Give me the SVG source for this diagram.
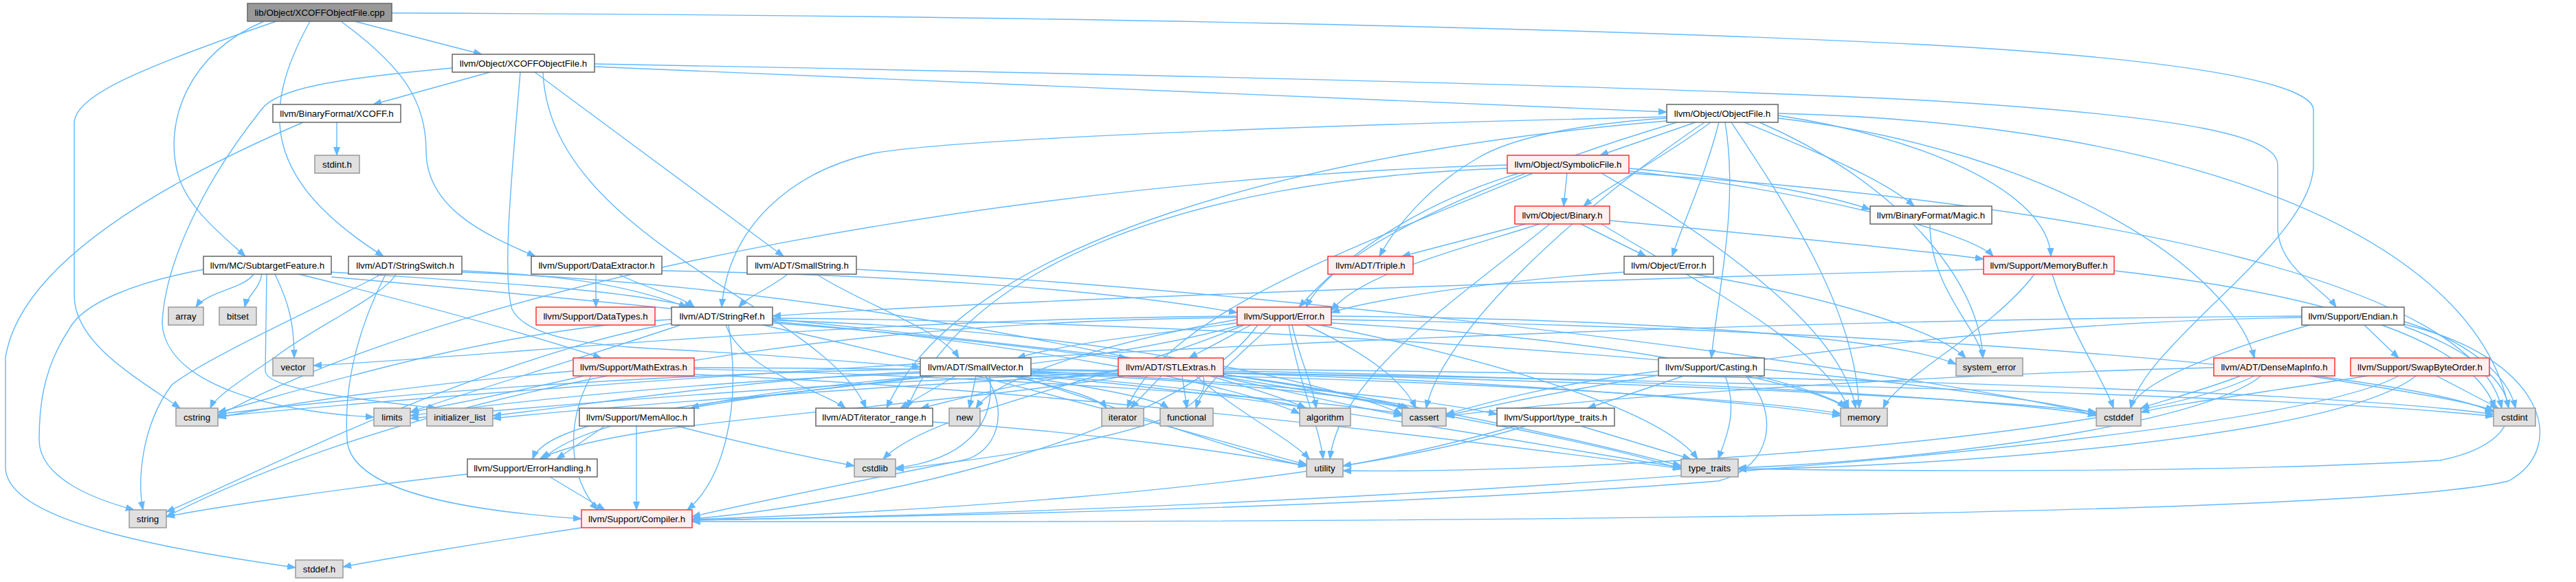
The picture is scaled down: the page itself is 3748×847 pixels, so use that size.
<svg xmlns="http://www.w3.org/2000/svg" width="3748" height="847" viewBox="0 0 3748 847">
<defs>
<marker id="a" markerUnits="userSpaceOnUse" markerWidth="13" markerHeight="10" refX="12" refY="5" orient="auto"><path d="M0,0.5 L12,5 L0,9.5 z" fill="#63b8ff" stroke="#63b8ff" stroke-width="1"/></marker>
<style>
.e{fill:none;stroke:#63b8ff;stroke-width:1.4;marker-end:url(#a)}
.root rect{fill:#999999;stroke:#666666;stroke-width:1.5}
.w rect{fill:#ffffff;stroke:#666666;stroke-width:1.5}
.r rect{fill:#fff0f0;stroke:#ff3333;stroke-width:1.5}
.g rect{fill:#e0e0e0;stroke:#999999;stroke-width:1.5}
text{font-family:"Liberation Sans",Arial,Helvetica,sans-serif;font-size:13.3px;fill:#000000;text-anchor:middle}
</style>
</defs>
<rect width="3748" height="847" fill="#ffffff"/>
<g id="edges">
<path class="e" d="M516,31 L701,79"/>
<path class="e" d="M451,31 C380,160 380,260 558,373"/>
<path class="e" d="M384,31 C270,80 240,180 258,250 C270,300 320,340 357,373"/>
<path class="e" d="M496,31 C590,100 620,150 620,220 C620,300 700,340 779,373"/>
<path class="e" d="M402,31 C200,100 108,140 108,180 L108,430 C108,500 200,550 262,594"/>
<path class="e" d="M570,19 C1500,22 2300,40 2800,65 C3250,90 3366,130 3366,160 L3366,240 C3366,350 3120,500 3100,594"/>
<path class="e" d="M713,105 L543,152"/>
<path class="e" d="M658,99 C480,115 400,130 380,160 C300,260 240,380 236,470 C240,560 400,600 544,607"/>
<path class="e" d="M778,105 L1140,373"/>
<path class="e" d="M757,105 C745,250 730,400 745,450 C770,500 900,505 1000,510 C1150,518 1250,528 1339,534"/>
<path class="e" d="M865,97 C1500,120 2000,145 2425,163"/>
<path class="e" d="M865,93 C1500,105 2400,125 2800,146 C3200,170 3314,200 3314,240 L3314,330 C3314,390 3380,420 3399,447"/>
<path class="e" d="M790,105 C800,350 1200,450 1260,594"/>
<path class="e" d="M490,178 L490,226"/>
<path class="e" d="M441,178 C250,260 30,380 8,520 L8,680 C8,760 250,800 430,826"/>
<path class="e" d="M369,399 C355,420 300,425 285,447"/>
<path class="e" d="M381,399 C378,420 360,430 356,447"/>
<path class="e" d="M400,399 C420,440 428,470 428,521"/>
<path class="e" d="M388,399 L386,540 C388,570 560,585 635,594"/>
<path class="e" d="M297,392 C200,410 120,440 100,480 C60,540 57,600 57,640 C57,700 150,730 195,742"/>
<path class="e" d="M435,399 C600,440 750,480 875,521"/>
<path class="e" d="M482,396 C700,410 900,420 1008,447"/>
<path class="e" d="M482,403 C900,440 1300,480 1640,521"/>
<path class="e" d="M672,394 C800,400 900,410 1000,447"/>
<path class="e" d="M561,399 C520,480 500,560 505,640 C510,720 700,745 846,755"/>
<path class="e" d="M672,396 C1300,420 1800,560 2040,605"/>
<path class="e" d="M576,399 C560,430 450,480 400,520 C340,560 312,580 306,594"/>
<path class="e" d="M555,399 C480,440 300,520 250,560 C205,620 200,700 208,742"/>
<path class="e" d="M867,399 L867,447"/>
<path class="e" d="M900,399 C940,420 990,430 1010,447"/>
<path class="e" d="M963,394 C1300,400 1600,420 1800,455"/>
<path class="e" d="M1146,399 C1120,420 1090,430 1075,447"/>
<path class="e" d="M1188,399 C1250,440 1370,480 1395,521"/>
<path class="e" d="M1246,392 C2000,430 2900,560 3050,605"/>
<path class="e" d="M2467,178 L2328,226"/>
<path class="e" d="M2489,178 C2420,230 2340,270 2304,300"/>
<path class="e" d="M2501,178 C2480,260 2450,320 2433,373"/>
<path class="e" d="M2538,178 C2640,220 2740,260 2785,300"/>
<path class="e" d="M2425,170 C2000,180 1400,200 1271,223 C1150,250 1060,330 1050,447"/>
<path class="e" d="M2425,172 C2300,180 2200,200 2150,230 C2080,270 2030,330 2007,373"/>
<path class="e" d="M2425,176 C1900,220 1400,350 1290,594"/>
<path class="e" d="M2510,178 C2530,300 2500,420 2490,521"/>
<path class="e" d="M2440,178 C2200,250 1950,350 1900,447"/>
<path class="e" d="M2587,168 C2800,200 2980,280 2984,373"/>
<path class="e" d="M2480,178 C2300,300 2100,480 2075,594"/>
<path class="e" d="M2587,165 C3200,180 3600,350 3650,594"/>
<path class="e" d="M2519,178 C2600,300 2700,450 2705,594"/>
<path class="e" d="M2560,178 C2750,260 2880,400 2885,521"/>
<path class="e" d="M2587,172 C3000,220 3250,400 3280,521"/>
<path class="e" d="M2280,252 L2275,300"/>
<path class="e" d="M2370,245 C2550,260 2680,290 2721,305"/>
<path class="e" d="M2370,249 C2650,280 2870,340 2900,373"/>
<path class="e" d="M2210,252 C2050,300 1950,380 1890,447"/>
<path class="e" d="M2193,245 C1700,260 1400,400 1320,594"/>
<path class="e" d="M2370,252 C3100,300 3600,420 3640,594"/>
<path class="e" d="M2193,240 C1500,260 700,400 317,605"/>
<path class="e" d="M2230,252 C2000,350 1700,450 1640,594"/>
<path class="e" d="M2330,252 C2500,350 2680,480 2700,594"/>
<path class="e" d="M2220,326 L2040,373"/>
<path class="e" d="M2300,326 L2395,373"/>
<path class="e" d="M2342,321 C2600,345 2800,365 2886,377"/>
<path class="e" d="M2240,326 C2100,370 1980,400 1937,452"/>
<path class="e" d="M2330,326 C2450,400 2650,500 2690,594"/>
<path class="e" d="M2255,326 C2100,450 1950,550 1935,668"/>
<path class="e" d="M2363,396 C2150,410 1980,440 1937,455"/>
<path class="e" d="M2465,399 C2650,430 2820,480 2860,521"/>
<path class="e" d="M2808,326 C2808,420 2880,480 2885,521"/>
<path class="e" d="M2886,392 C2200,410 1400,440 1124,460"/>
<path class="e" d="M2986,399 C3010,480 3060,550 3075,594"/>
<path class="e" d="M3076,394 C3400,430 3600,500 3630,594"/>
<path class="e" d="M2960,399 C2900,480 2760,550 2740,594"/>
<path class="e" d="M1830,473 C1700,650 1200,740 1007,755"/>
<path class="e" d="M1805,473 C1500,560 900,560 790,668"/>
<path class="e" d="M1880,473 C1890,520 1910,560 1915,594"/>
<path class="e" d="M1900,473 C1980,510 2040,550 2060,594"/>
<path class="e" d="M1937,465 C2800,480 3500,540 3628,600"/>
<path class="e" d="M1810,473 C1600,560 1350,600 1285,668"/>
<path class="e" d="M1850,473 C1800,520 1750,560 1740,594"/>
<path class="e" d="M1937,470 C2300,490 2600,540 2690,594"/>
<path class="e" d="M1800,465 C1600,500 1450,550 1420,594"/>
<path class="e" d="M1800,462 C1000,470 500,620 242,752"/>
<path class="e" d="M1937,460 C2400,465 2750,490 2846,530"/>
<path class="e" d="M1920,473 C2200,530 2420,600 2470,668"/>
<path class="e" d="M1875,473 C1890,560 1920,620 1925,668"/>
<path class="e" d="M1800,460 C1200,465 700,520 456,532"/>
<path class="e" d="M1820,473 L1730,521"/>
<path class="e" d="M1800,470 C1650,490 1550,500 1480,521"/>
<path class="e" d="M1056,473 C1080,540 1200,570 1230,594"/>
<path class="e" d="M1060,473 C1080,600 1050,700 1000,742"/>
<path class="e" d="M1124,468 C1500,500 1800,560 1891,602"/>
<path class="e" d="M1124,466 C1600,480 1950,560 2040,603"/>
<path class="e" d="M1124,463 C2000,470 2900,560 3050,602"/>
<path class="e" d="M977,465 C700,480 400,580 317,600"/>
<path class="e" d="M990,473 C850,520 650,580 597,600"/>
<path class="e" d="M980,470 C700,520 350,700 242,745"/>
<path class="e" d="M1124,470 C1800,520 2300,640 2446,678"/>
<path class="e" d="M1110,473 C1500,560 1800,650 1901,676"/>
<path class="e" d="M1390,547 L1310,594"/>
<path class="e" d="M1434,547 C1470,600 1450,660 1400,670 C1250,700 1100,730 1007,752"/>
<path class="e" d="M1360,547 C1100,580 800,600 775,668"/>
<path class="e" d="M1350,547 C1200,560 1050,580 1005,594"/>
<path class="e" d="M1500,540 C1900,560 2100,585 2178,603"/>
<path class="e" d="M1500,545 C1700,560 1850,580 1900,594"/>
<path class="e" d="M1500,543 C1800,555 2000,580 2050,594"/>
<path class="e" d="M1500,537 C2300,550 2900,580 3050,600"/>
<path class="e" d="M1440,547 C1450,620 1400,670 1303,681"/>
<path class="e" d="M1339,537 C900,545 500,580 317,603"/>
<path class="e" d="M1480,547 C1600,565 1680,580 1700,594"/>
<path class="e" d="M1339,541 C1100,550 850,590 717,605"/>
<path class="e" d="M1470,547 C1550,565 1600,580 1610,594"/>
<path class="e" d="M1339,543 C1000,555 700,590 597,605"/>
<path class="e" d="M1500,542 C2100,550 2550,580 2678,602"/>
<path class="e" d="M1420,547 L1410,594"/>
<path class="e" d="M1500,547 C1900,580 2300,660 2446,680"/>
<path class="e" d="M1480,547 C1650,600 1800,660 1901,678"/>
<path class="e" d="M1627,540 C1500,550 1400,580 1340,594"/>
<path class="e" d="M1640,547 C1300,600 900,610 785,668"/>
<path class="e" d="M1760,547 C1840,570 1880,585 1900,594"/>
<path class="e" d="M1780,545 C1900,560 2000,580 2045,594"/>
<path class="e" d="M1780,540 C2400,550 2900,580 3050,604"/>
<path class="e" d="M1780,537 C2600,545 3400,570 3628,603"/>
<path class="e" d="M1750,547 C1780,620 1500,660 1303,683"/>
<path class="e" d="M1720,547 L1727,594"/>
<path class="e" d="M1627,545 C1300,560 900,590 717,609"/>
<path class="e" d="M1690,547 L1645,594"/>
<path class="e" d="M1627,543 C1200,555 800,590 597,609"/>
<path class="e" d="M1780,543 C2200,555 2550,585 2678,605"/>
<path class="e" d="M1770,547 C2100,600 2350,650 2446,683"/>
<path class="e" d="M1740,547 C1800,600 1880,640 1905,668"/>
<path class="e" d="M860,547 C820,620 830,700 870,742"/>
<path class="e" d="M1010,537 C1500,550 1900,580 2040,602"/>
<path class="e" d="M1010,535 C2000,540 3300,570 3628,606"/>
<path class="e" d="M834,540 C600,560 400,590 317,608"/>
<path class="e" d="M850,547 C750,570 650,590 597,600"/>
<path class="e" d="M1010,545 C1600,570 2200,650 2446,682"/>
<path class="e" d="M926,620 L926,742"/>
<path class="e" d="M880,620 L810,668"/>
<path class="e" d="M985,620 C1100,650 1200,670 1243,678"/>
<path class="e" d="M800,694 L880,742"/>
<path class="e" d="M680,690 C500,710 300,740 242,752"/>
<path class="e" d="M846,768 C700,790 550,815 499,825"/>
<path class="e" d="M1357,614 C1600,630 1800,660 1901,678"/>
<path class="e" d="M2220,620 C1900,720 1200,750 1007,756"/>
<path class="e" d="M2300,620 L2460,668"/>
<path class="e" d="M2205,620 C2100,650 2000,670 1954,678"/>
<path class="e" d="M2540,547 C2590,600 2580,680 2500,700 C2000,740 1300,752 1007,757"/>
<path class="e" d="M2450,547 L2310,594"/>
<path class="e" d="M2413,540 C2250,560 2150,590 2104,603"/>
<path class="e" d="M2540,547 C2620,565 2670,580 2685,594"/>
<path class="e" d="M2510,547 C2530,600 2510,640 2500,668"/>
<path class="e" d="M3440,473 L3490,521"/>
<path class="e" d="M3360,473 C3200,520 3110,560 3100,594"/>
<path class="e" d="M3498,468 C3600,500 3650,550 3660,594"/>
<path class="e" d="M3498,472 C3700,520 3740,650 3650,700 C3400,760 1600,760 1007,759"/>
<path class="e" d="M3349,462 C2800,470 2300,560 2104,605"/>
<path class="e" d="M3349,460 C2000,470 800,560 317,606"/>
<path class="e" d="M3498,475 C3680,540 3700,640 3550,670 C3200,690 2700,685 2529,682"/>
<path class="e" d="M3221,535 C2800,545 2300,580 2104,606"/>
<path class="e" d="M3260,547 C3200,570 3140,585 3115,594"/>
<path class="e" d="M3360,547 C3500,570 3600,585 3628,598"/>
<path class="e" d="M3290,547 C3200,620 2800,670 2529,681"/>
<path class="e" d="M3280,547 C3100,640 2300,690 1954,685"/>
<path class="e" d="M3490,547 C3300,650 2000,740 1007,757"/>
<path class="e" d="M3445,547 C3300,570 3150,590 3115,600"/>
<path class="e" d="M3545,547 L3635,594"/>
<path class="e" d="M3515,547 C3400,640 2800,680 2529,683"/>
</g>
<g id="n1" class="root"><rect x="360" y="5" width="210" height="26"/><text x="465" y="23">lib/Object/XCOFFObjectFile.cpp</text></g>
<g id="n2" class="w"><rect x="658" y="79" width="207" height="26"/><text x="761.5" y="97">llvm/Object/XCOFFObjectFile.h</text></g>
<g id="n3" class="w"><rect x="397" y="152" width="186" height="26"/><text x="490" y="170">llvm/BinaryFormat/XCOFF.h</text></g>
<g id="n4" class="g"><rect x="458" y="226" width="65" height="26"/><text x="490.5" y="244">stdint.h</text></g>
<g id="n5" class="w"><rect x="296" y="373" width="186" height="26"/><text x="389" y="391">llvm/MC/SubtargetFeature.h</text></g>
<g id="n6" class="w"><rect x="507" y="373" width="165" height="26"/><text x="589.5" y="391">llvm/ADT/StringSwitch.h</text></g>
<g id="n7" class="w"><rect x="773" y="373" width="190" height="26"/><text x="868" y="391">llvm/Support/DataExtractor.h</text></g>
<g id="n8" class="w"><rect x="1087" y="373" width="159" height="26"/><text x="1166.5" y="391">llvm/ADT/SmallString.h</text></g>
<g id="n9" class="w"><rect x="2425" y="152" width="162" height="26"/><text x="2506" y="170">llvm/Object/ObjectFile.h</text></g>
<g id="n10" class="r"><rect x="2193" y="226" width="177" height="26"/><text x="2281.5" y="244">llvm/Object/SymbolicFile.h</text></g>
<g id="n11" class="r"><rect x="2204" y="300" width="138" height="26"/><text x="2273" y="318">llvm/Object/Binary.h</text></g>
<g id="n12" class="r"><rect x="1932" y="373" width="124" height="26"/><text x="1994" y="391">llvm/ADT/Triple.h</text></g>
<g id="n13" class="w"><rect x="2363" y="373" width="130" height="26"/><text x="2428" y="391">llvm/Object/Error.h</text></g>
<g id="n14" class="w"><rect x="2721" y="300" width="177" height="26"/><text x="2809.5" y="318">llvm/BinaryFormat/Magic.h</text></g>
<g id="n15" class="r"><rect x="2886" y="373" width="190" height="26"/><text x="2981" y="391">llvm/Support/MemoryBuffer.h</text></g>
<g id="n16" class="g"><rect x="245" y="447" width="51" height="26"/><text x="270.5" y="465">array</text></g>
<g id="n17" class="g"><rect x="319" y="447" width="54" height="26"/><text x="346" y="465">bitset</text></g>
<g id="n18" class="g"><rect x="397" y="521" width="59" height="26"/><text x="426.5" y="539">vector</text></g>
<g id="n19" class="g"><rect x="256" y="594" width="61" height="26"/><text x="286.5" y="612">cstring</text></g>
<g id="n20" class="g"><rect x="544" y="594" width="53" height="26"/><text x="570.5" y="612">limits</text></g>
<g id="n21" class="g"><rect x="621" y="594" width="96" height="26"/><text x="669" y="612">initializer_list</text></g>
<g id="n22" class="r"><rect x="780" y="447" width="173" height="26"/><text x="866.5" y="465">llvm/Support/DataTypes.h</text></g>
<g id="n23" class="r"><rect x="834" y="521" width="176" height="26"/><text x="922" y="539">llvm/Support/MathExtras.h</text></g>
<g id="n24" class="w"><rect x="843" y="594" width="167" height="26"/><text x="926.5" y="612">llvm/Support/MemAlloc.h</text></g>
<g id="n25" class="w"><rect x="680" y="668" width="189" height="26"/><text x="774.5" y="686">llvm/Support/ErrorHandling.h</text></g>
<g id="n26" class="g"><rect x="188" y="742" width="54" height="26"/><text x="215" y="760">string</text></g>
<g id="n27" class="r"><rect x="846" y="742" width="161" height="26"/><text x="926.5" y="760">llvm/Support/Compiler.h</text></g>
<g id="n28" class="g"><rect x="430" y="815" width="69" height="26"/><text x="464.5" y="833">stddef.h</text></g>
<g id="n29" class="w"><rect x="977" y="447" width="147" height="26"/><text x="1050.5" y="465">llvm/ADT/StringRef.h</text></g>
<g id="n30" class="w"><rect x="1339" y="521" width="161" height="26"/><text x="1419.5" y="539">llvm/ADT/SmallVector.h</text></g>
<g id="n31" class="r"><rect x="1627" y="521" width="153" height="26"/><text x="1703.5" y="539">llvm/ADT/STLExtras.h</text></g>
<g id="n32" class="r"><rect x="1800" y="447" width="137" height="26"/><text x="1868.5" y="465">llvm/Support/Error.h</text></g>
<g id="n33" class="w"><rect x="1187" y="594" width="170" height="26"/><text x="1272" y="612">llvm/ADT/iterator_range.h</text></g>
<g id="n34" class="g"><rect x="1381" y="594" width="45" height="26"/><text x="1403.5" y="612">new</text></g>
<g id="n35" class="g"><rect x="1603" y="594" width="61" height="26"/><text x="1633.5" y="612">iterator</text></g>
<g id="n36" class="g"><rect x="1688" y="594" width="77" height="26"/><text x="1726.5" y="612">functional</text></g>
<g id="n37" class="g"><rect x="1243" y="668" width="60" height="26"/><text x="1273" y="686">cstdlib</text></g>
<g id="n38" class="g"><rect x="1891" y="594" width="74" height="26"/><text x="1928" y="612">algorithm</text></g>
<g id="n39" class="g"><rect x="2040" y="594" width="64" height="26"/><text x="2072" y="612">cassert</text></g>
<g id="n40" class="w"><rect x="2178" y="594" width="171" height="26"/><text x="2263.5" y="612">llvm/Support/type_traits.h</text></g>
<g id="n41" class="w"><rect x="2413" y="521" width="154" height="26"/><text x="2490" y="539">llvm/Support/Casting.h</text></g>
<g id="n42" class="g"><rect x="2678" y="594" width="68" height="26"/><text x="2712" y="612">memory</text></g>
<g id="n43" class="g"><rect x="1901" y="668" width="53" height="26"/><text x="1927.5" y="686">utility</text></g>
<g id="n44" class="g"><rect x="2446" y="668" width="83" height="26"/><text x="2487.5" y="686">type_traits</text></g>
<g id="n45" class="w"><rect x="3349" y="447" width="149" height="26"/><text x="3423.5" y="465">llvm/Support/Endian.h</text></g>
<g id="n46" class="g"><rect x="2846" y="521" width="97" height="26"/><text x="2894.5" y="539">system_error</text></g>
<g id="n47" class="r"><rect x="3221" y="521" width="176" height="26"/><text x="3309" y="539">llvm/ADT/DenseMapInfo.h</text></g>
<g id="n48" class="r"><rect x="3420" y="521" width="202" height="26"/><text x="3521" y="539">llvm/Support/SwapByteOrder.h</text></g>
<g id="n49" class="g"><rect x="3050" y="594" width="65" height="26"/><text x="3082.5" y="612">cstddef</text></g>
<g id="n50" class="g"><rect x="3628" y="594" width="61" height="26"/><text x="3658.5" y="612">cstdint</text></g>
</svg>
